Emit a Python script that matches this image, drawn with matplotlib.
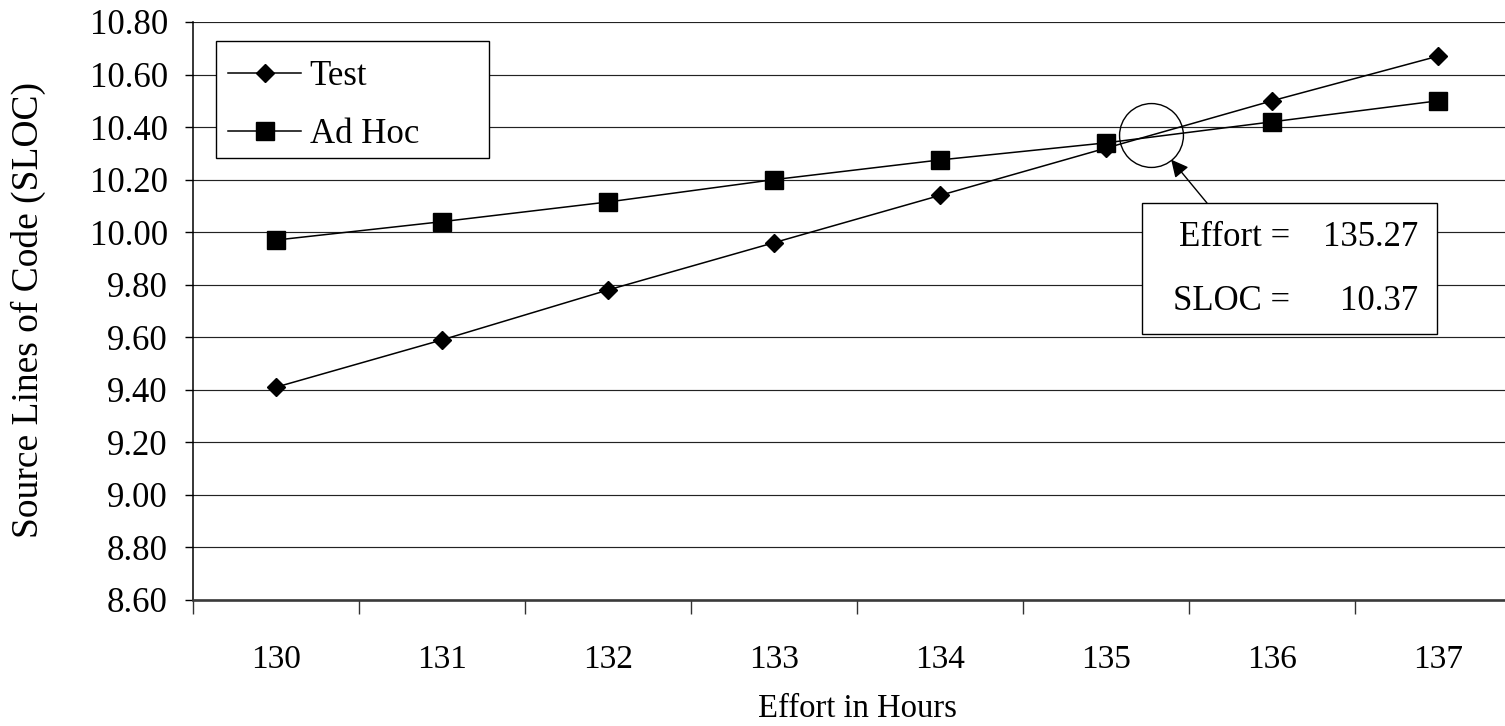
import matplotlib
matplotlib.use("Agg")
import matplotlib.pyplot as plt
from matplotlib.patches import Rectangle

# Effort categories (hours) and the two SLOC series
effort_hours = [130, 131, 132, 133, 134, 135, 136, 137]
test_sloc = [9.41, 9.59, 9.78, 9.96, 10.14, 10.32, 10.50, 10.67]
adhoc_sloc = [9.97, 10.04, 10.115, 10.20, 10.275, 10.34, 10.42, 10.50]

# Crossover point of the two series
cross_effort = 135.27
cross_sloc = 10.37

y_ticks = [8.60, 8.80, 9.00, 9.20, 9.40, 9.60, 9.80, 10.00, 10.20, 10.40, 10.60, 10.80]

W, H = 1505, 726
FS = 25
plt.rcParams["font.family"] = ["Liberation Serif", "DejaVu Serif"]
plt.rcParams["font.size"] = FS

fig = plt.figure(figsize=(W / 100, H / 100), dpi=100)
fig.patch.set_facecolor("white")


def fx(px):
    return px / W


def fy(py):
    return 1 - py / H


left, right, top, bottom = 193, 1521, 22, 600
ax = fig.add_axes([fx(left), fy(bottom), (right - left) / W, (bottom - top) / H])

idx = list(range(len(effort_hours)))
ax.plot(idx, test_sloc, color="black", lw=1.1, marker="D", ms=8.8,
        mfc="black", mec="black", label="Test", zorder=4)
ax.plot(idx, adhoc_sloc, color="black", lw=1.1, marker="s", ms=12.5,
        mfc="black", mec="black", label="Ad Hoc", zorder=4)

ax.set_xlim(-0.5, len(effort_hours) - 0.5)
ax.set_ylim(y_ticks[0], y_ticks[-1])

# y axis
ax.set_yticks(y_ticks)
ax.set_yticklabels([f"{v:.2f}" for v in y_ticks])
ax.tick_params(axis="y", direction="out", length=6, width=1.0, pad=12,
               labelsize=FS, color="black")
ax.yaxis.grid(True, color="#222222", lw=0.85)
ax.set_axisbelow(True)

# x axis: ticks between categories, labels on category centres
ax.set_xticks([i - 0.5 for i in idx])
ax.set_xticklabels([])
ax.set_xticks(idx, minor=True)
ax.set_xticklabels([str(v) for v in effort_hours], minor=True)
ax.tick_params(axis="x", which="major", direction="out", length=10, width=1.0,
               color="#333333")
ax.tick_params(axis="x", which="minor", length=0, pad=32, labelsize=24)

for s in ("top", "right"):
    ax.spines[s].set_visible(False)
ax.spines["left"].set_color("black")
ax.spines["left"].set_linewidth(1.1)
ax.spines["bottom"].set_color("#3a3a3a")
ax.spines["bottom"].set_linewidth(1.9)

ax.set_xlabel("Effort in Hours", fontsize=23.5)
ax.xaxis.set_label_coords(0.5, (bottom - 709) / (bottom - top))
ax.xaxis.label.set_va("center")
ax.set_ylabel("Source Lines of Code (SLOC)", fontsize=27)
ax.yaxis.set_label_coords((28 - left) / (right - left), (bottom - 310) / (bottom - top))
ax.yaxis.label.set_va("center")

# Legend with a plain rectangular frame
ax.add_patch(Rectangle((fx(216), fy(158)), fx(489) - fx(216), fy(41) - fy(158),
                       transform=fig.transFigure, facecolor="white",
                       edgecolor="black", lw=1.0, zorder=5, clip_on=False))
leg = ax.legend(loc="upper left", bbox_to_anchor=(fx(216), fy(48)),
                bbox_transform=fig.transFigure, frameon=False, fontsize=FS,
                handlelength=2.1, handletextpad=0.25, labelspacing=0.71,
                borderpad=0.35, borderaxespad=0, markerscale=1.0)
leg.set_zorder(6)

# Crossover marker circle
cx = cross_effort - effort_hours[0]
ax.plot([cx], [cross_sloc], marker="o", ms=46, mfc="none", mec="black",
        mew=1.0, zorder=5, clip_on=False)

# Callout box
ax.add_patch(Rectangle((fx(1142), fy(334)), fx(1437) - fx(1142), fy(203) - fy(334),
                       transform=fig.transFigure, facecolor="white",
                       edgecolor="black", lw=1.0, zorder=5, clip_on=False))
for row_y, name, val in ((237, "Effort =", cross_effort), (302, "SLOC =", cross_sloc)):
    ax.text(fx(1290), fy(row_y), name, transform=fig.transFigure,
            ha="right", va="center", fontsize=FS, zorder=6)
    ax.text(fx(1418), fy(row_y), f"{val:.2f}", transform=fig.transFigure,
            ha="right", va="center", fontsize=FS, zorder=6)

ax.annotate("", xy=(cx, cross_sloc), xycoords="data",
            xytext=(fx(1207), fy(203)), textcoords="figure fraction",
            arrowprops=dict(arrowstyle="-|>", color="black", lw=1.0,
                            mutation_scale=26, shrinkA=0, shrinkB=23),
            zorder=5)

fig.savefig("out.png", dpi=100, facecolor="white")
